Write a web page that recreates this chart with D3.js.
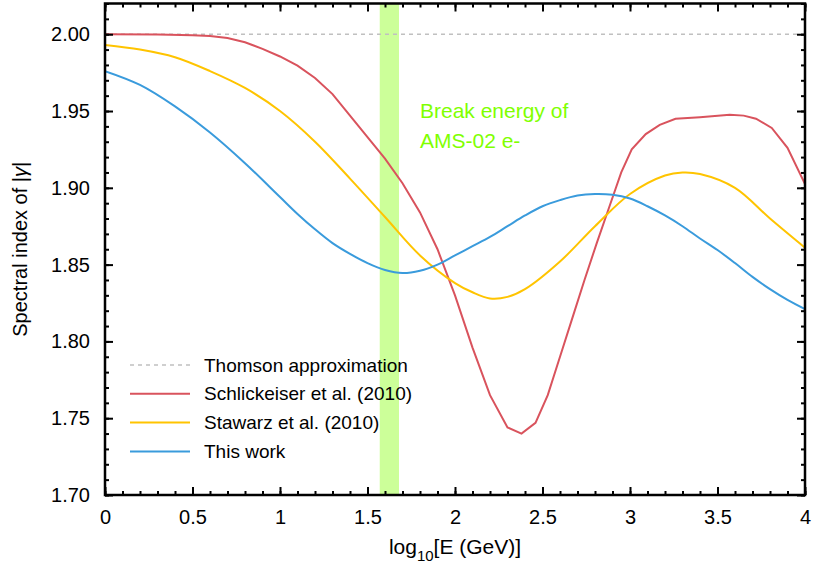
<!DOCTYPE html>
<html>
<head>
<meta charset="utf-8">
<script src="https://d3js.org/d3.v7.min.js"></script>
<style>
  body { margin: 0; background: #fff; }
  text { font-family: "Liberation Sans", Arial, sans-serif; fill: #000; }
</style>
</head>
<body>
<script>
// values
var schlickX = [0, 0.3, 0.5, 0.6, 0.7, 0.8, 0.9, 1.0, 1.1, 1.2, 1.3, 1.4, 1.5, 1.6, 1.7, 1.8, 1.9, 2.0, 2.1, 2.2, 2.3, 2.38, 2.46, 2.53, 2.6, 2.67, 2.74, 2.81, 2.88, 2.95, 3.01, 3.09, 3.17, 3.26, 3.4, 3.57, 3.65, 3.72, 3.81, 3.9, 4.0];
var schlickY = [2.000, 1.9998, 1.9994, 1.9988, 1.9975, 1.9948, 1.9905, 1.9855, 1.9795, 1.9715, 1.961, 1.947, 1.933, 1.919, 1.903, 1.884, 1.860, 1.830, 1.796, 1.765, 1.744, 1.740, 1.747, 1.765, 1.790, 1.815, 1.840, 1.864, 1.887, 1.910, 1.925, 1.935, 1.941, 1.945, 1.946, 1.9476, 1.947, 1.945, 1.939, 1.926, 1.9025];

var stawarzX = [0, 0.2, 0.4, 0.6, 0.8, 1.0, 1.2, 1.4, 1.6, 1.8, 2.0, 2.1, 2.2, 2.3, 2.4, 2.6, 2.8, 3.0, 3.2, 3.3, 3.4, 3.6, 3.8, 4.0];
var stawarzY = [1.993, 1.990, 1.985, 1.976, 1.965, 1.950, 1.930, 1.906, 1.881, 1.856, 1.838, 1.832, 1.828, 1.829, 1.834, 1.852, 1.875, 1.896, 1.908, 1.910, 1.909, 1.900, 1.880, 1.861];

var thisX = [0, 0.2, 0.4, 0.6, 0.8, 1.0, 1.1, 1.2, 1.3, 1.4, 1.5, 1.6, 1.7, 1.8, 1.9, 2.0, 2.1, 2.2, 2.3, 2.4, 2.5, 2.6, 2.7, 2.8, 2.9, 3.0, 3.1, 3.2, 3.3, 3.4, 3.5, 3.6, 3.7, 3.8, 3.9, 4.0];
var thisY = [1.976, 1.967, 1.953, 1.936, 1.916, 1.894, 1.883, 1.873, 1.864, 1.857, 1.851, 1.8465, 1.8445, 1.846, 1.850, 1.856, 1.862, 1.868, 1.875, 1.882, 1.888, 1.892, 1.895, 1.896, 1.8955, 1.893, 1.888, 1.882, 1.875, 1.867, 1.8595, 1.851, 1.842, 1.834, 1.827, 1.821];

var thomsonY = 2.0;
var band = [1.57, 1.68];

var xTicks = [0, 0.5, 1, 1.5, 2, 2.5, 3, 3.5, 4];
var yTicks = [1.70, 1.75, 1.80, 1.85, 1.90, 1.95, 2.00];

var legendNames = ["Thomson approximation", "Schlickeiser et al. (2010)", "Stawarz et al. (2010)", "This work"];
var legendColors = ["#c0c0c0", "#d9535d", "#ffc400", "#3a9bdc"];

var width = 815, height = 567;
var margin = {left: 105, right: 10, top: 3.5, bottom: 72};

var svg = d3.select("body").append("svg")
  .attr("width", width)
  .attr("height", height);

var x = d3.scaleLinear().domain([0, 4]).range([margin.left, width - margin.right]);
var y = d3.scaleLinear().domain([1.70, 2.02]).range([height - margin.bottom, margin.top]);

svg.append("clipPath").attr("id", "clip")
  .append("rect")
  .attr("x", x(0)).attr("y", y(2.02))
  .attr("width", x(4) - x(0)).attr("height", y(1.70) - y(2.02));

var plot = svg.append("g").attr("clip-path", "url(#clip)");

// break energy band
plot.append("rect")
  .attr("x", x(band[0]))
  .attr("width", x(band[1]) - x(band[0]))
  .attr("y", y(2.02))
  .attr("height", y(1.70) - y(2.02))
  .attr("fill", "#ccff99");

plot.append("line")
  .attr("x1", x(0)).attr("x2", x(4))
  .attr("y1", y(thomsonY)).attr("y2", y(thomsonY))
  .attr("stroke", legendColors[0])
  .attr("stroke-width", 1.6)
  .attr("stroke-dasharray", "4,4");

function drawCurve(xs, ys, color, curve) {
  var pts = xs.map(function(d, i) { return [d, ys[i]]; });
  var line = d3.line()
    .x(function(d) { return x(d[0]); })
    .y(function(d) { return y(d[1]); })
    .curve(curve);
  plot.append("path")
    .datum(pts)
    .attr("d", line)
    .attr("fill", "none")
    .attr("stroke", color)
    .attr("stroke-width", 2);
}

drawCurve(schlickX, schlickY, legendColors[1], d3.curveLinear);
drawCurve(stawarzX, stawarzY, legendColors[2], d3.curveCatmullRom.alpha(0.5));
drawCurve(thisX, thisY, legendColors[3], d3.curveCatmullRom.alpha(0.5));

svg.append("text")
  .attr("x", 420).attr("y", 118)
  .style("font-size", "21px")
  .style("fill", "#80ff00")
  .text("Break energy of");
svg.append("text")
  .attr("x", 420).attr("y", 148)
  .style("font-size", "21px")
  .style("fill", "#80ff00")
  .text("AMS-02 e-");

// legend
legendNames.forEach(function(name, i) {
  var ly = 365 + i * 28.8;
  svg.append("line")
    .attr("x1", 130).attr("x2", 190)
    .attr("y1", ly).attr("y2", ly)
    .attr("stroke", legendColors[i])
    .attr("stroke-width", i == 0 ? 1.6 : 2)
    .attr("stroke-dasharray", i == 0 ? "4,4" : null);
  svg.append("text")
    .attr("x", 204).attr("y", ly)
    .attr("dy", "0.35em")
    .style("font-size", "19px")
    .text(name);
});

// axes, ticks inward on all four sides
var xMinor = d3.range(0, 40.5, 1).map(function(d) { return d / 10; });
var yMinor = d3.range(170, 202.5, 1).map(function(d) { return d / 100; });

function styleAxis(g) {
  g.selectAll(".domain").remove();
  g.selectAll("line").attr("stroke", "#000").attr("stroke-width", 2);
  g.selectAll("text").style("font-size", "20px").attr("font-family", null);
}

svg.append("g").attr("transform", "translate(0," + y(1.70) + ")")
  .call(d3.axisBottom(x).tickValues(xMinor).tickSize(-4).tickFormat(""))
  .call(styleAxis);
svg.append("g").attr("transform", "translate(0," + y(1.70) + ")")
  .call(d3.axisBottom(x).tickValues(xTicks).tickSize(-8).tickPadding(15).tickFormat(d3.format("")))
  .call(styleAxis);
svg.append("g").attr("transform", "translate(0," + y(2.02) + ")")
  .call(d3.axisTop(x).tickValues(xMinor).tickSize(-4).tickFormat(""))
  .call(styleAxis);
svg.append("g").attr("transform", "translate(0," + y(2.02) + ")")
  .call(d3.axisTop(x).tickValues(xTicks).tickSize(-8).tickFormat(""))
  .call(styleAxis);

svg.append("g").attr("transform", "translate(" + x(0) + ",0)")
  .call(d3.axisLeft(y).tickValues(yMinor).tickSize(-4).tickFormat(""))
  .call(styleAxis);
svg.append("g").attr("transform", "translate(" + x(0) + ",0)")
  .call(d3.axisLeft(y).tickValues(yTicks).tickSize(-8).tickPadding(15).tickFormat(d3.format(".2f")))
  .call(styleAxis);
svg.append("g").attr("transform", "translate(" + x(4) + ",0)")
  .call(d3.axisRight(y).tickValues(yMinor).tickSize(-4).tickFormat(""))
  .call(styleAxis);
svg.append("g").attr("transform", "translate(" + x(4) + ",0)")
  .call(d3.axisRight(y).tickValues(yTicks).tickSize(-8).tickFormat(""))
  .call(styleAxis);

// frame
svg.append("rect")
  .attr("x", x(0)).attr("y", y(2.02))
  .attr("width", x(4) - x(0)).attr("height", y(1.70) - y(2.02))
  .attr("fill", "none")
  .attr("stroke", "#000")
  .attr("stroke-width", 2.5);

// axis titles
var xt = svg.append("text")
  .attr("x", (x(0) + x(4)) / 2).attr("y", 554)
  .attr("text-anchor", "middle")
  .style("font-size", "21px");
xt.append("tspan").text("log");
xt.append("tspan").attr("dy", 7).style("font-size", "15px").text("10");
xt.append("tspan").attr("dy", -7).text("[E (GeV)]");

var yt = svg.append("text")
  .attr("transform", "translate(27," + (y(1.70) + y(2.02)) / 2 + ") rotate(-90)")
  .attr("text-anchor", "middle")
  .style("font-size", "20px");
yt.append("tspan").text("Spectral index of |");
yt.append("tspan").style("font-style", "italic").text("γ");
yt.append("tspan").text("|");
</script>
</body>
</html>
